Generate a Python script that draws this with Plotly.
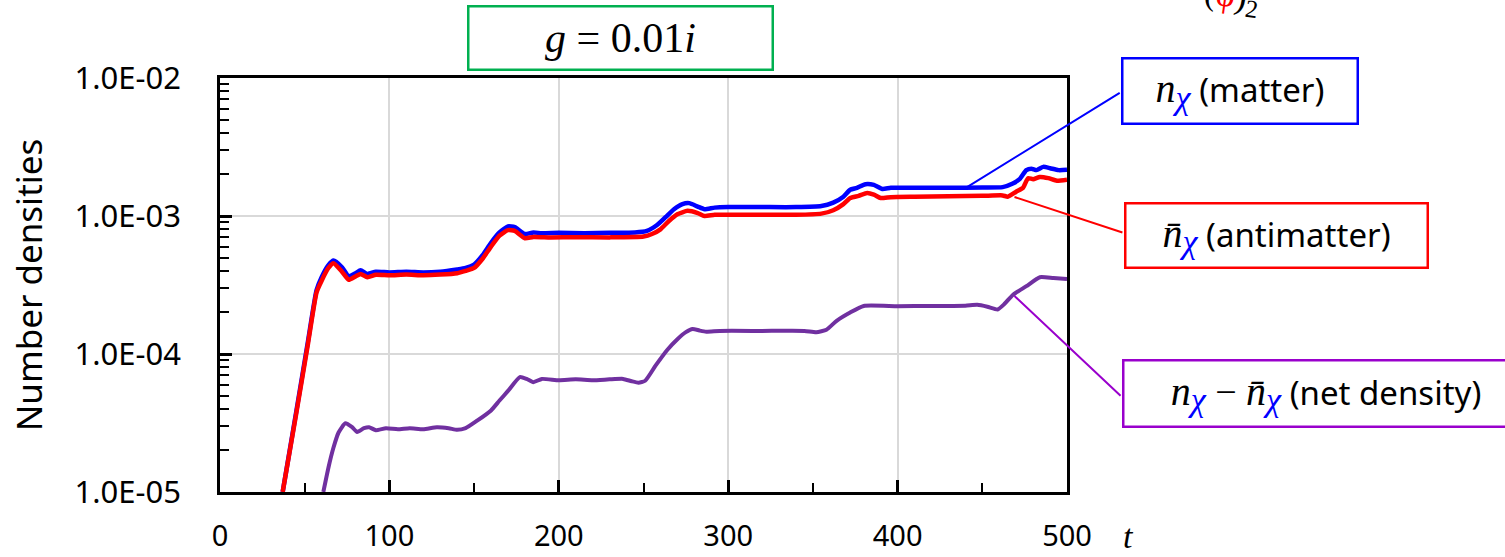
import math
import plotly.graph_objects as go

# ---- data: number densities vs time t ----
t_matter = [37, 45, 52, 57, 60, 64, 67, 72, 76, 80, 83, 87, 92, 100, 110, 120, 130, 140,
            145, 150, 155, 160, 165, 170, 174, 180, 185, 190, 200, 215, 230, 245, 252,
            258, 263, 268, 273, 277, 282, 286, 292, 300, 320, 340, 355, 362, 368, 372,
            376, 381, 386, 391, 396, 410, 430, 450, 462, 468, 472, 476, 479, 482, 486,
            490, 495, 500]
n_matter = [1.0e-5, 3.8e-5, 1.25e-4, 2.9e-4, 3.6e-4, 4.4e-4, 4.75e-4, 4.25e-4, 3.65e-4,
            3.85e-4, 4.05e-4, 3.8e-4, 3.95e-4, 3.9e-4, 3.95e-4, 3.9e-4, 3.95e-4, 4.1e-4,
            4.2e-4, 4.45e-4, 5.2e-4, 6.4e-4, 7.6e-4, 8.4e-4, 8.3e-4, 7.4e-4, 7.6e-4, 7.5e-4,
            7.55e-4, 7.5e-4, 7.55e-4, 7.6e-4, 7.8e-4, 8.6e-4, 9.8e-4, 1.12e-3, 1.22e-3,
            1.24e-3, 1.17e-3, 1.12e-3, 1.15e-3, 1.16e-3, 1.16e-3, 1.16e-3, 1.18e-3, 1.25e-3,
            1.38e-3, 1.55e-3, 1.6e-3, 1.7e-3, 1.68e-3, 1.57e-3, 1.6e-3, 1.6e-3, 1.6e-3,
            1.61e-3, 1.62e-3, 1.72e-3, 1.85e-3, 2.15e-3, 2.2e-3, 2.15e-3, 2.27e-3, 2.22e-3,
            2.15e-3, 2.16e-3]

t_anti = [37, 45, 52, 57, 60, 64, 67, 72, 76, 80, 83, 87, 92, 100, 110, 120, 130, 140,
          145, 150, 155, 160, 165, 170, 174, 180, 185, 195, 210, 230, 250, 255, 260, 265,
          270, 276, 282, 286, 292, 300, 320, 340, 355, 362, 368, 372, 377, 382, 386, 390,
          396, 410, 430, 450, 462, 465, 470, 474, 477, 480, 484, 489, 494, 500]
n_anti = [1.0e-5, 3.7e-5, 1.2e-4, 2.8e-4, 3.4e-4, 4.2e-4, 4.55e-4, 3.95e-4, 3.45e-4,
          3.65e-4, 3.8e-4, 3.6e-4, 3.75e-4, 3.72e-4, 3.76e-4, 3.72e-4, 3.76e-4, 3.85e-4,
          4.0e-4, 4.2e-4, 4.9e-4, 6.0e-4, 7.2e-4, 7.9e-4, 7.8e-4, 6.9e-4, 7.05e-4, 7.0e-4,
          7.02e-4, 7.0e-4, 7.1e-4, 7.4e-4, 8.0e-4, 9.2e-4, 1.03e-3, 1.09e-3, 1.05e-3,
          1.0e-3, 1.02e-3, 1.02e-3, 1.02e-3, 1.02e-3, 1.04e-3, 1.1e-3, 1.22e-3, 1.35e-3,
          1.4e-3, 1.47e-3, 1.43e-3, 1.35e-3, 1.37e-3, 1.38e-3, 1.39e-3, 1.4e-3, 1.41e-3,
          1.38e-3, 1.5e-3, 1.6e-3, 1.88e-3, 1.85e-3, 1.92e-3, 1.88e-3, 1.8e-3, 1.83e-3]

t_net = [61, 64, 67, 70, 74, 78, 81, 85, 88, 92, 98, 105, 112, 120, 128, 135, 140, 145,
         152, 160, 165, 170, 177, 181, 185, 190, 200, 210, 220, 230, 238, 243, 247, 251,
         257, 264, 270, 275, 279, 283, 287, 295, 320, 345, 352, 358, 364, 372, 380, 400,
         420, 440, 447, 453, 459, 463, 468, 476, 484, 492, 500]
n_net = [1.0e-5, 1.5e-5, 2.1e-5, 2.7e-5, 3.15e-5, 2.95e-5, 2.72e-5, 2.9e-5, 2.95e-5,
         2.8e-5, 2.9e-5, 2.85e-5, 2.9e-5, 2.85e-5, 2.95e-5, 2.9e-5, 2.82e-5, 2.9e-5,
         3.3e-5, 3.9e-5, 4.6e-5, 5.4e-5, 6.8e-5, 6.6e-5, 6.25e-5, 6.6e-5, 6.45e-5, 6.55e-5,
         6.45e-5, 6.55e-5, 6.6e-5, 6.35e-5, 6.2e-5, 6.4e-5, 8.2e-5, 1.07e-4, 1.28e-4,
         1.44e-4, 1.52e-4, 1.48e-4, 1.45e-4, 1.47e-4, 1.47e-4, 1.47e-4, 1.44e-4, 1.5e-4,
         1.74e-4, 2.0e-4, 2.23e-4, 2.22e-4, 2.23e-4, 2.24e-4, 2.27e-4, 2.2e-4, 2.1e-4,
         2.3e-4, 2.68e-4, 3.1e-4, 3.6e-4, 3.55e-4, 3.5e-4]

x_ticks = [0, 100, 200, 300, 400, 500]
y_ticks = [1e-5, 1e-4, 1e-3, 1e-2]
y_tick_text = ["1.0E-05", "1.0E-04", "1.0E-03", "1.0E-02"]

BLUE = "#0000FF"
RED = "#FF0000"
PURPLE = "#7030A0"
PURPLE_BOX = "#9900CC"
GREEN = "#00B050"
SANS = "Noto Sans"
SERIF = "Liberation Serif"

fig = go.Figure()
fig.add_trace(go.Scatter(x=t_matter, y=n_matter, mode="lines",
                         line=dict(color=BLUE, width=4.5, shape="spline", smoothing=0.5)))
fig.add_trace(go.Scatter(x=t_anti, y=n_anti, mode="lines",
                         line=dict(color=RED, width=4.5, shape="spline", smoothing=0.5)))
fig.add_trace(go.Scatter(x=t_net, y=n_net, mode="lines",
                         line=dict(color=PURPLE, width=4, shape="spline", smoothing=0.5)))

fig.update_xaxes(
    range=[0, 500], tickvals=x_ticks, ticks="inside", ticklen=12, tickwidth=2.5,
    tickcolor="black", showline=True, linecolor="black", linewidth=2.5, mirror=True,
    showgrid=True, gridcolor="#D9D9D9", gridwidth=1.5, zeroline=False, automargin=False,
    tickfont=dict(family=SANS, size=29, color="black"), ticklabelstandoff=16,
    minor=dict(ticks="inside", ticklen=9, tickwidth=2, tickcolor="black",
               dtick=50, tick0=0, showgrid=False),
)
fig.update_yaxes(
    type="log", range=[-5, -2], tickvals=y_ticks, ticktext=y_tick_text,
    ticks="inside", ticklen=12, tickwidth=2.5, tickcolor="black",
    showline=True, linecolor="black", linewidth=2.5, mirror=True,
    showgrid=True, gridcolor="#D9D9D9", gridwidth=1.5, zeroline=False, automargin=False,
    tickfont=dict(family=SANS, size=31, color="black"), ticklabelstandoff=30,
    minor=dict(ticks="inside", ticklen=9, tickwidth=2, tickcolor="black",
               dtick="D1", showgrid=False),
    title=dict(text="Number densities", font=dict(family=SANS, size=35, color="black"),
               standoff=22),
)

L, R, T, B = 220, 438, 78, 65
W, H = 1505, 557
PW, PH = W - L - R, H - T - B


def px(xp):
    return (xp - L) / PW


def py(yp):
    return (H - B - yp) / PH


def box(text, x0, y0, x1, y1, color, size=33):
    bw = 2.5
    fig.add_annotation(
        xref="paper", yref="paper", x=px(x0), y=py(y0), xanchor="left", yanchor="top",
        text=text, showarrow=False, align="center", valign="middle",
        width=x1 - x0 - 2 * bw - 2, height=y1 - y0 - 2 * bw - 2, borderpad=1,
        bordercolor=color, borderwidth=bw, bgcolor="white",
        font=dict(family=SANS, size=size, color="black"),
    )


def connector(t_head, v_head, t_tail, v_tail, color):
    fig.add_annotation(
        x=t_head, y=math.log10(v_head), xref="x", yref="y",
        ax=t_tail, ay=math.log10(v_tail), axref="x", ayref="y",
        text="", showarrow=True, arrowhead=0, arrowwidth=2, arrowcolor=color,
        standoff=0, startstandoff=0,
    )


chi = ("<sub><i><span style='font-family:{f};font-size:34px;color:{c}'>χ</span></i></sub>"
       .format(f=SERIF, c=BLUE))
n_it = "<i><span style='font-family:{f};font-size:40px'>n</span></i>".format(f=SERIF)
n_bar = "<i><span style='font-family:{f};font-size:40px'>n̄</span></i>".format(f=SERIF)
minus = "<span style='font-family:{f};font-size:38px'> − </span>".format(f=SERIF)

# leader lines from the curves to their labels
connector(441, 1.62e-3, 532, 10 ** -2.101, BLUE)
connector(469, 10 ** -2.862, 533.6, 10 ** -3.123, RED)
connector(469, 10 ** -3.58, 532.5, 10 ** -4.312, PURPLE_BOX)

box(n_it + chi + " (matter)", 1121, 57, 1359, 125, BLUE)
box(n_bar + chi + " (antimatter)", 1124, 202, 1429, 269, RED)
box(n_it + chi + minus + n_bar + chi + " (net density)", 1122, 359, 1530, 428, PURPLE_BOX)

# coupling label above the plot
fig.add_annotation(
    xref="paper", yref="paper", x=px(467), y=py(5), xanchor="left", yanchor="top",
    text="<i>g</i>&#8197;=&#8197;0.01<i>i</i>", showarrow=False,
    width=300, height=59, borderpad=1, bordercolor=GREEN, borderwidth=2.5, bgcolor="white",
    font=dict(family=SERIF, size=42, color="black"),
)

# axis variable label
fig.add_annotation(
    xref="paper", yref="paper", x=px(1128), y=py(536), xanchor="center", yanchor="middle",
    text="<i>t</i>", showarrow=False, font=dict(family=SERIF, size=34, color="black"),
)

# partially visible formula at the top edge
fig.add_annotation(
    xref="paper", yref="paper", x=px(1232), y=py(-3), xanchor="center", yanchor="middle",
    text="(<span style='color:red'>ϕ</span>)<sub>2</sub>", showarrow=False, textangle=8,
    font=dict(family=SERIF, size=36, color="black"),
)

fig.update_layout(
    width=W, height=H, margin=dict(l=L, r=R, t=T, b=B, autoexpand=False),
    paper_bgcolor="white", plot_bgcolor="white", showlegend=False,
)

fig.write_html("out.html")
